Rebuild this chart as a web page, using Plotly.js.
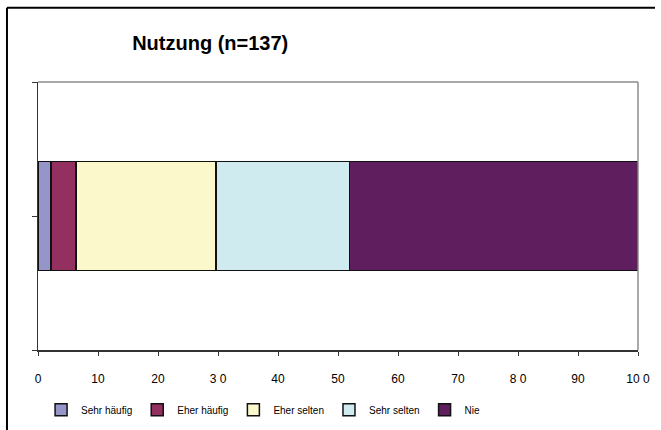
<!DOCTYPE html>
<html>
<head>
<meta charset="utf-8">
<script src="https://cdn.plot.ly/plotly-3.0.1.min.js"></script>
<style>html,body{margin:0;padding:0;background:#fff;}#chart{width:661px;height:430px;}</style>
</head>
<body>
<div id="chart"></div>
<script>
var categories = ["Sehr häufig", "Eher häufig", "Eher selten", "Sehr selten", "Nie"];
var values = [2.2, 4.1, 23.4, 22.2, 48.1];
var colors = ["#9595c9", "#93305f", "#fbf8cc", "#cfebf0", "#5f1f5f"];
var xTickVals = [0, 10, 20, 30, 40, 50, 60, 70, 80, 90, 100];
var xTickText = ["0", "10", "20", "3 0", "40", "50", "60", "70", "8 0", "90", "10 0"];

var traces = categories.map(function (c, i) {
  return {
    type: "bar",
    orientation: "h",
    name: c,
    x: [values[i]],
    y: [1],
    width: 0.81,
    marker: { color: colors[i], line: { color: "#111", width: 1.5 } },
    hoverinfo: "name+x"
  };
});

var layout = {
  width: 661, height: 430,
  margin: { l: 38, r: 23, t: 82, b: 80 },
  paper_bgcolor: "#fff", plot_bgcolor: "#fff",
  barmode: "stack",
  bargap: 0,
  font: { family: "Liberation Sans, Arial, sans-serif", color: "#000", size: 11 },
  title: {
    text: "<b>Nutzung (n=137)</b>",
    font: { size: 20, color: "#000", family: "Liberation Sans, Arial, sans-serif" },
    x: 0.318, xref: "container", xanchor: "center",
    y: 0.9, yref: "container", yanchor: "middle"
  },
  xaxis: {
    range: [0, 100], tickvals: xTickVals, ticktext: xTickText,
    showgrid: false, zeroline: false,
    showline: true, linecolor: "#333", linewidth: 1.5,
    ticks: "outside", ticklen: 4, tickcolor: "#333", tickwidth: 1,
    ticklabelstandoff: 13,
    tickfont: { size: 12, color: "#000" },
    fixedrange: true
  },
  yaxis: {
    range: [0, 2], tickvals: [0, 1, 2],
    showticklabels: false, showgrid: false, zeroline: false,
    showline: true, linecolor: "#333", linewidth: 1.5,
    ticks: "outside", ticklen: 5, tickcolor: "#333", tickwidth: 1,
    fixedrange: true
  },
  showlegend: true,
  legend: {
    orientation: "h",
    xref: "container", x: 0.398, xanchor: "center",
    yref: "container", y: 0.047, yanchor: "middle",
    font: { size: 10, color: "#000" },
    traceorder: "normal",
    itemwidth: 30,
    bgcolor: "rgba(0,0,0,0)"
  },
  shapes: [
    { type: "line", xref: "paper", yref: "paper", x0: 0, x1: 1, y0: 1, y1: 1, line: { color: "#8c8c8c", width: 1.5 } },
    { type: "line", xref: "paper", yref: "paper", x0: 1, x1: 1, y0: 0, y1: 1, line: { color: "#8c8c8c", width: 1.5 } },
    { type: "line", xref: "paper", yref: "paper", x0: -0.0517, x1: 1.0283, y0: 1.2772, y1: 1.2772, line: { color: "#000", width: 2 } },
    { type: "line", xref: "paper", yref: "paper", x0: -0.0517, x1: -0.0517, y0: -0.32, y1: 1.2772, line: { color: "#000", width: 2 } }
  ]
};

Plotly.newPlot("chart", traces, layout, { displayModeBar: false, staticPlot: true });
</script>
</body>
</html>
